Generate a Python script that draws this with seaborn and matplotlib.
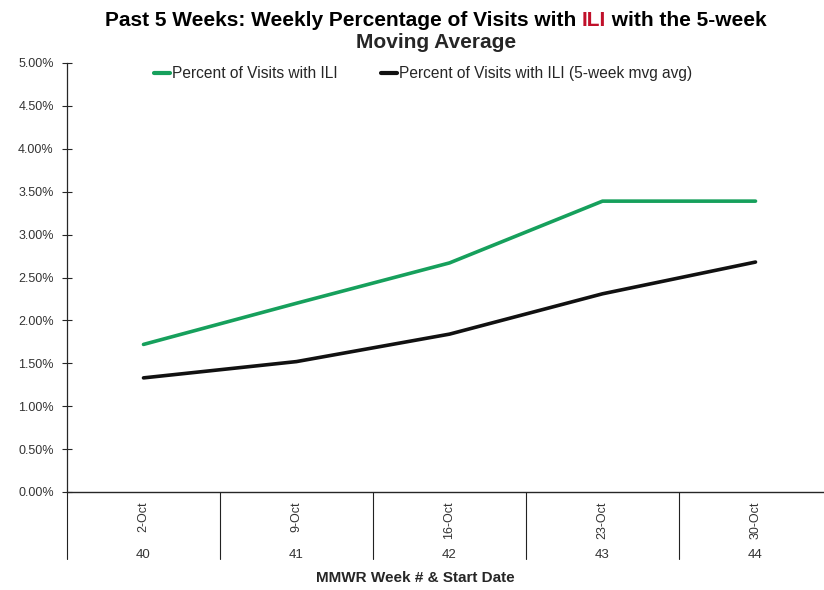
import pandas as pd
import numpy as np
import matplotlib
matplotlib.use("Agg")
import matplotlib.pyplot as plt
import matplotlib.transforms as mtrans
import seaborn as sns

# data
dates = ["2-Oct", "9-Oct", "16-Oct", "23-Oct", "30-Oct"]
weeks = ["40", "41", "42", "43", "44"]
pct_ili = [1.72, 2.20, 2.67, 3.39, 3.39]
pct_ili_avg = [1.33, 1.52, 1.84, 2.31, 2.68]
yticks = [0, 0.5, 1.0, 1.5, 2.0, 2.5, 3.0, 3.5, 4.0, 4.5, 5.0]

s1 = "Percent of Visits with ILI"
s2 = "Percent of Visits with ILI (5-week mvg avg)"
df = pd.DataFrame({
    "x": list(range(len(dates))) * 2,
    "pct": pct_ili + pct_ili_avg,
    "series": [s1] * len(dates) + [s2] * len(dates),
})

sns.set_style("ticks")
plt.rcParams["font.family"] = ["Liberation Sans", "DejaVu Sans"]

fig = plt.figure(figsize=(8.24, 5.90), dpi=100)
ax = fig.add_axes([67 / 824, 1 - 492 / 590, (832 - 67) / 824, (492 - 63) / 590])

sns.lineplot(data=df, x="x", y="pct", hue="series",
             palette={s1: "#16a05c", s2: "#111111"}, linewidth=2.6, ax=ax)

ax.set_xlim(-0.5, len(dates) - 0.5)
ax.set_ylim(0, 5)
ax.set_yticks(yticks)
ax.set_yticklabels([f"{v:.2f}%" for v in yticks], fontsize=9, color="#333333")
ax.tick_params(axis="y", direction="inout", length=7, width=0.8, pad=6)
ax.set_xticks(range(len(dates)))
ax.set_xticklabels(dates, rotation=90, fontsize=9, color="#333333")
ax.tick_params(axis="x", length=0, pad=7)
for side in ["top", "right"]:
    ax.spines[side].set_visible(False)
ax.spines["left"].set_linewidth(0.9)
ax.spines["bottom"].set_linewidth(1.0)
ax.set_ylabel("")
ax.set_xlabel("")
fig.text(415 / 824, 1 - 578 / 590, "MMWR Week # & Start Date", ha="center", va="center",
         fontsize=11, fontweight="bold")

# second level of the category axis
trans = mtrans.blended_transform_factory(ax.transData, ax.transAxes)
for i, w in enumerate(weeks):
    ax.text(i, -0.146, w, transform=trans, ha="center", va="center", fontsize=9.5, color="#333333")
for b in np.arange(len(dates) + 1) - 0.5:
    ax.plot([b, b], [0, -0.157], transform=trans, color="#222222", lw=0.8, clip_on=False)

leg = ax.legend(loc="center", ncol=2, frameon=False,
                fontsize=11.2, handlelength=1.0, handletextpad=0.15, columnspacing=2.8)
leg.set_bbox_to_anchor((423 / 824, 1 - 74 / 590), transform=fig.transFigure)
for h in leg.get_lines():
    h.set_linewidth(3)

# title with red ILI
fig.canvas.draw()
r = fig.canvas.get_renderer()
parts = [("Past 5 Weeks: Weekly Percentage of Visits with ", "black"),
         ("ILI", "#c0102a"), (" with the 5-week", "black")]
kw = dict(fontsize=15, fontweight="bold")
widths = []
for t, c in parts:
    tx = fig.text(0, 0, t, **kw)
    widths.append(tx.get_window_extent(r).width)
    tx.remove()
x0 = 436 - sum(widths) / 2
for (t, c), wdt in zip(parts, widths):
    fig.text(x0 / 824, 1 - 21 / 590, t, color=c, va="center", ha="left", **kw)
    x0 += wdt
fig.text(436 / 824, 1 - 43 / 590, "Moving Average", ha="center", va="center", **kw)

fig.savefig("out.png", dpi=100)
